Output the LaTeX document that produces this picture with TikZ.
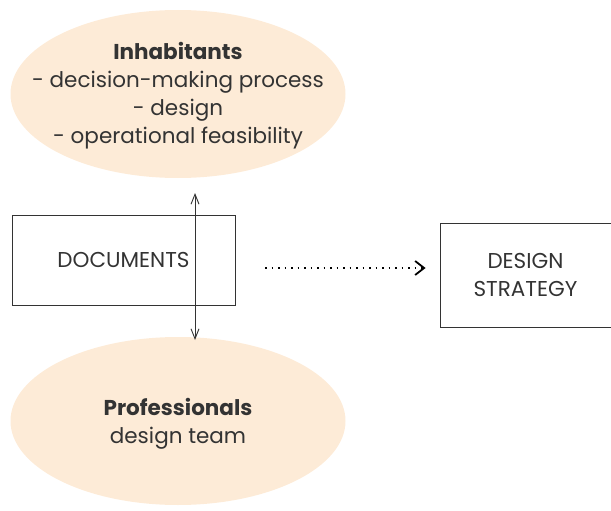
\documentclass[tikz,border=0pt]{standalone}
\usepackage{fontspec}
\setmainfont{Poppins}
\usetikzlibrary{arrows.meta, positioning, shapes.geometric}
\definecolor{peach}{HTML}{FDEBD7}
\definecolor{inkgray}{HTML}{333333}

\begin{document}
\begin{tikzpicture}[x=1pt, y=-1pt,
		every node/.style={align=center, text=inkgray, font=\fontsize{21.5}{28}\selectfont},
		actor/.style={ellipse, fill=peach, minimum width=335pt, minimum height=168pt, inner sep=0pt},
		docbox/.style={draw=inkgray, line width=0.8pt, rectangle, minimum width=223pt, minimum height=90pt},
		stratbox/.style={draw=inkgray, line width=0.8pt, rectangle, minimum width=171pt, minimum height=104pt},
		link/.style={{Straight Barb[length=10pt, width=8pt]}-{Straight Barb[length=10pt, width=8pt]}, line width=0.9pt, color=inkgray},
		lead/.style={-{Straight Barb[length=9pt, width=14pt, line width=1.8pt]}, dash pattern=on 1.5pt off 5pt, line width=1.4pt, color=black}
		]
		
		% --- frame ---
		\useasboundingbox (0,0) rectangle (611,511);
		
		% --- actors ---
		\node[actor] (INH) at (178,94) {};
		\node (INHtxt) at ([yshift=-2pt]INH.center) {\textbf{Inhabitants}\\- decision-making process\\- design\\- operational feasibility};
		\node[actor] (PRO) at (178,421) {};
		\node (PROtxt) at ([yshift=-3pt]PRO.center) {\textbf{Professionals}\\design team};
		
		% --- boxes ---
		\node[docbox] (DOC) at (123.5,260) {DOCUMENTS};
		\node[stratbox] (STR) at (525.5,275) {DESIGN\\STRATEGY};
		
		% --- connectors ---
		\coordinate (top) at (195,193);
		\coordinate (bot) at (195,340);
		\draw[link] (top) -- (bot);
		\coordinate (gap) at (265,268);
		\draw[lead] (gap) -- ([xshift=-14pt]STR.west |- gap);
		
	\end{tikzpicture}
\end{document}
